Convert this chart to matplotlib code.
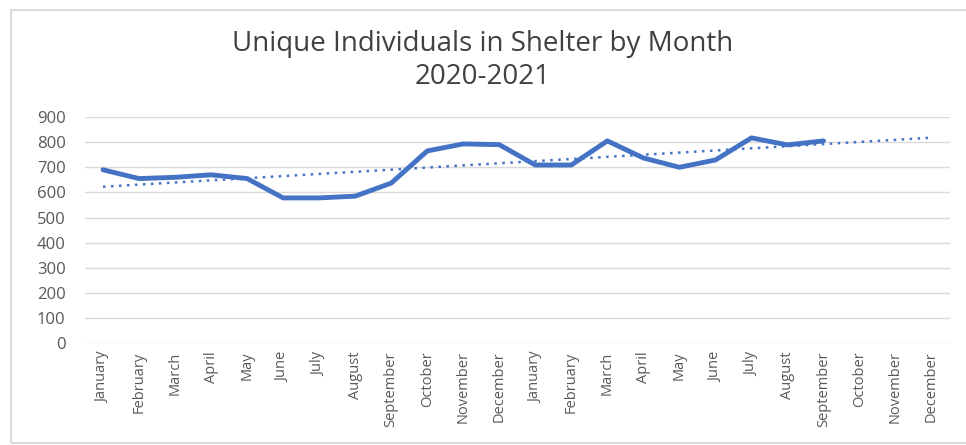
import numpy as np
import matplotlib
matplotlib.use("Agg")
import matplotlib.pyplot as plt
from matplotlib.patches import Rectangle

plt.rcParams["font.family"] = ["Open Sans", "DejaVu Sans"]

# monthly values, Jan 2020 .. Sep 2021
months = ["January", "February", "March", "April", "May", "June", "July",
          "August", "September", "October", "November", "December"]
labels = months + months
counts = [690, 655, 660, 670, 655, 578, 578, 585, 637, 765, 793, 790,
          709, 709, 805, 737, 700, 729, 817, 789, 805]
yticks = [0, 100, 200, 300, 400, 500, 600, 700, 800, 900]

blue = "#4472C4"
grey_txt = "#595959"

fig = plt.figure(figsize=(9.66, 4.45), dpi=100)
ax = fig.add_axes([0.088, 0.229, 0.895, 0.508])

# faint chart frame
fig.patches.append(Rectangle((0.011, 0.005), 1.2, 0.973, transform=fig.transFigure,
                             fill=False, edgecolor="#d4d4d4", linewidth=1.2))

x = np.arange(len(counts))
ax.plot(x, counts, color=blue, linewidth=3.5, solid_joinstyle="round",
        solid_capstyle="round", zorder=3)

# linear trendline, extended over the whole axis like excel's forecast
k, b = np.polyfit(x, counts, 1)
xt = np.arange(len(labels))
ax.plot(xt, k * xt + b, color=blue, linewidth=1.8, linestyle=(0, (1, 2.2)),
        zorder=2)

ax.set_xlim(-0.5, len(labels) - 0.5)
ax.set_ylim(0, 900)
ax.set_yticks(yticks)
ax.set_xticks(xt)
ax.set_xticklabels(labels, rotation=90, fontsize=10.5, color=grey_txt)
ax.tick_params(axis="y", labelsize=12, colors=grey_txt, length=0, pad=14)
ax.tick_params(axis="x", length=0, pad=6)
ax.grid(axis="y", color="#d9d9d9", linewidth=1)
ax.set_axisbelow(True)
for s in ax.spines.values():
    s.set_visible(False)

fig.text(0.5, 0.9, "Unique Individuals in Shelter by Month", ha="center",
         va="center", fontsize=20, color="#404040")
fig.text(0.5, 0.828, "2020-2021", ha="center", va="center", fontsize=20,
         color="#404040")

fig.savefig("out.png", dpi=100)
